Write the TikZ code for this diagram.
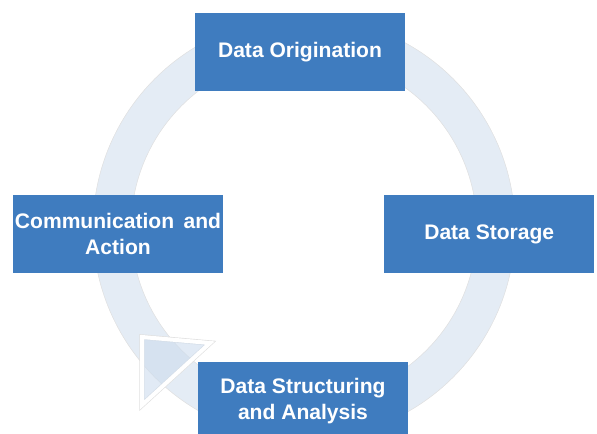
\documentclass[tikz,border=0pt]{standalone}
\usepackage{fontspec}
\setmainfont{Liberation Sans}
\usepackage{xcolor}
\usetikzlibrary{positioning, calc}
\definecolor{boxblue}{RGB}{63,124,191}
\definecolor{ringblue}{RGB}{228,236,245}
\definecolor{tipblue}{RGB}{205,220,238}
\tikzset{
  % Stage box style
  stage/.style={
    fill=boxblue,
    text=white,
    font=\bfseries\fontsize{15.8}{19.5}\selectfont,
    minimum width=157.5pt,
    minimum height=58.5pt,
    inner sep=0pt,
    align=center
  },
  % Cycle band style
  cycleband/.style={
    fill=ringblue,
    draw=black!12,
    line width=0.4pt,
    even odd rule
  },
}

\begin{document}
\begin{tikzpicture}
          [x=0.75pt, y=-0.75pt
          ]
          \useasboundingbox (0,0) rectangle (597,433);
          \coordinate (hub) at (304,228);

          % band round the stages
          \path[cycleband] (hub) circle[radius=158.25pt]
                           (hub) circle[radius=129.75pt];

          % arrow tip on the band
          \coordinate (tipa) at (142,337);
          \coordinate (tipb) at (210,343);
          \coordinate (tipc) at (142,405);
          \draw[black!12, line width=4pt, line join=miter]
               (tipa) -- (tipb) -- (tipc) -- cycle;
          \filldraw[fill=tipblue, fill opacity=0.6, draw=white, line width=3pt, line join=miter]
               (tipa) -- (tipb) -- (tipc) -- cycle;

          \node (orig) [stage] at (300,52) {Data Origination};
          \node (store) [stage
                        , right=0pt of {(384,234)}
                        ]
                        {Data Storage};
          \node (struct) [stage] at (303,401)
                         {Data Structuring\\and Analysis};
          \node (comm) [stage] at (118,234)
                       {Communication\hspace{0.45em}and\\Action};
      \end{tikzpicture}
\end{document}
